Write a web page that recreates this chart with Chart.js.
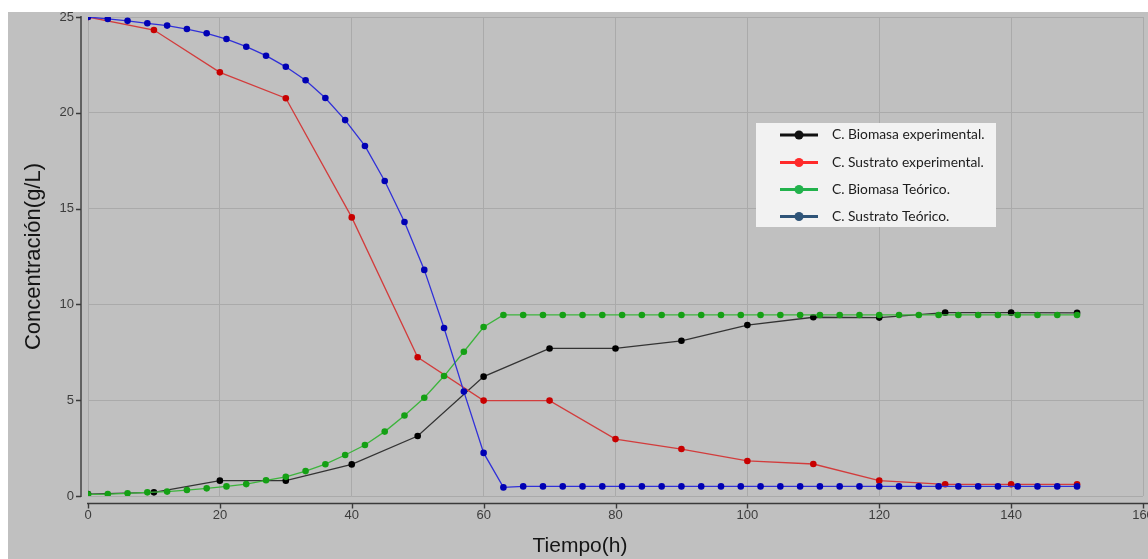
<!DOCTYPE html>
<html>
<head>
<meta charset="utf-8">
<script src="https://cdn.jsdelivr.net/npm/chart.js@4.4.1/dist/chart.umd.min.js"></script>
<style>
  html, body { margin: 0; padding: 0; background: #fff; }
  canvas { display: block; }
</style>
</head>
<body>
<canvas id="grafico" width="1148" height="559"></canvas>
<script>
"use strict"
// tiempos (h)
const tiemposTeoricos = [0, 3, 6, 9, 12, 15, 18, 21, 24, 27, 30, 33, 36, 39, 42, 45, 48, 51, 54, 57, 60,
    63, 66, 69, 72, 75, 78, 81, 84, 87, 90, 93, 96, 99, 102, 105, 108, 111, 114, 117, 120,
    123, 126, 129, 132, 135, 138, 141, 144, 147, 150];
const tiemposExp = [0, 10, 20, 30, 40, 50, 60, 70, 80, 90, 100, 110, 120, 130, 140, 150];

// concentraciones (g/L)
const biomasaExp = [0.1, 0.19, 0.8, 0.8, 1.65, 3.13, 6.23, 7.7, 7.7, 8.1, 8.92, 9.33, 9.31, 9.57, 9.57, 9.56];
const sustratoExp = [25, 24.32, 22.11, 20.76, 14.54, 7.24, 4.98, 4.98, 2.97, 2.45, 1.83, 1.67, 0.8, 0.61, 0.61, 0.61];
const biomasaTeo = [0.09, 0.1, 0.14, 0.19, 0.23, 0.31, 0.4, 0.5, 0.62, 0.82, 1.0, 1.3, 1.66, 2.14, 2.66, 3.36,
    4.2, 5.13, 6.26, 7.53, 8.82, 9.45, 9.45, 9.45, 9.45, 9.45, 9.45, 9.45, 9.45, 9.45, 9.45, 9.45,
    9.45, 9.45, 9.45, 9.45, 9.45, 9.45, 9.45, 9.45, 9.45, 9.45, 9.45, 9.45, 9.45, 9.45, 9.45, 9.45,
    9.45, 9.45, 9.45];
const sustratoTeo = [25, 24.9, 24.8, 24.67, 24.55, 24.37, 24.15, 23.85, 23.45, 22.98, 22.4, 21.7, 20.77, 19.62,
    18.27, 16.44, 14.3, 11.8, 8.77, 5.45, 2.25, 0.45, 0.5, 0.5, 0.5, 0.5, 0.5, 0.5, 0.5, 0.5, 0.5,
    0.5, 0.5, 0.5, 0.5, 0.5, 0.5, 0.5, 0.5, 0.5, 0.5, 0.5, 0.5, 0.5, 0.5, 0.5, 0.5, 0.5, 0.5, 0.5, 0.5];

const nombres = ["C. Biomasa experimental.", "C. Sustrato experimental.", "C. Biomasa Teórico.", "C. Sustrato Teórico."];
const ticksX = [0, 20, 40, 60, 80, 100, 120, 140, 160];
const ticksY = [0, 5, 10, 15, 20, 25];

const tituloX = "Tiempo(h)";
const tituloY = "Concentración(g/L)";

// colores de la leyenda (no son iguales a las lineas)
const coloresLeyenda = ["#111111", "#ff2a2a", "#22b24c", "#2f5478"];

function puntos(xs, ys) {
    return xs.map((t, i) => ({x: t, y: ys[i]}));
}

function serie(label, xs, ys, linea, punto, orden) {
    return {
        label: label,
        data: puntos(xs, ys),
        borderColor: linea,
        backgroundColor: punto,
        pointBackgroundColor: punto,
        pointBorderColor: punto,
        pointRadius: 3.3,
        pointBorderWidth: 0,
        borderWidth: 1.3,
        tension: 0,
        order: orden
    };
}

const fondoYEjes = {
    id: "fondoYEjes",
    beforeDraw(chart) {
        const ctx = chart.ctx;
        ctx.save();
        ctx.fillStyle = "#c0c0c0";
        ctx.fillRect(8, 12, chart.width - 8, chart.height - 12);
        ctx.restore();
    },
    afterDraw(chart) {
        const {ctx, chartArea: a, scales: {x, y}} = chart;
        ctx.save();
        ctx.strokeStyle = "#3a3a3a";
        ctx.lineWidth = 1.4;
        const ax = a.left - 7;
        const ay = a.bottom + 7.5;
        ctx.beginPath();
        ctx.moveTo(ax, a.top - 1);
        ctx.lineTo(ax, a.bottom + 1);
        y.ticks.forEach(t => {
            const py = Math.round(y.getPixelForValue(t.value)) + 0.5;
            ctx.moveTo(ax - 5, py);
            ctx.lineTo(ax, py);
        });
        ctx.moveTo(a.left - 1, ay);
        ctx.lineTo(chart.width, ay);
        x.ticks.forEach(t => {
            const px = Math.round(x.getPixelForValue(t.value)) + 0.5;
            ctx.moveTo(px, ay);
            ctx.lineTo(px, ay + 5);
        });
        ctx.stroke();

        // titulo eje x
        ctx.fillStyle = "#151515";
        ctx.font = '21px "Liberation Sans", Arial, sans-serif';
        ctx.textAlign = "center";
        ctx.textBaseline = "middle";
        ctx.fillText(tituloX, 580, 546);

        // leyenda
        ctx.fillStyle = "#f2f2f2";
        ctx.fillRect(756, 123, 240, 104);
        const filas = [135, 162.5, 189.5, 216.5];
        ctx.font = '13.8px Lato, "Open Sans", sans-serif';
        ctx.textAlign = "left";
        chart.data.datasets.forEach((ds, i) => {
            const fy = filas[i];
            ctx.strokeStyle = coloresLeyenda[i];
            ctx.lineWidth = 3;
            ctx.beginPath();
            ctx.moveTo(780, fy);
            ctx.lineTo(818, fy);
            ctx.stroke();
            ctx.fillStyle = coloresLeyenda[i];
            ctx.beginPath();
            ctx.arc(799, fy, 4.5, 0, Math.PI * 2);
            ctx.fill();
            ctx.fillStyle = "#1c1c1c";
            ctx.fillText(ds.label, 832, fy);
        });
        ctx.restore();
    }
};

const ctx = document.getElementById("grafico").getContext("2d");

const config = {
    type: "line",
    data: {
        datasets: [
            serie(nombres[0], tiemposExp, biomasaExp, "#333333", "#000000", 3),
            serie(nombres[1], tiemposExp, sustratoExp, "#d23c3c", "#c80000", 2),
            serie(nombres[2], tiemposTeoricos, biomasaTeo, "#3cb43c", "#14a014", 1),
            serie(nombres[3], tiemposTeoricos, sustratoTeo, "#3030d8", "#0000b4", 0)
        ]
    },
    options: {
        responsive: false,
        animation: false,
        devicePixelRatio: 1,
        layout: {padding: {left: 0, right: 5, top: 17, bottom: 0}},
        plugins: {
            legend: {display: false},
            tooltip: {enabled: false}
        },
        scales: {
            x: {
                type: "linear",
                min: 0,
                max: 160,
                afterBuildTicks: s => { s.ticks = ticksX.map(v => ({value: v})); },
                ticks: {
                    color: "#3c3c3c",
                    font: {family: '"Liberation Sans", Arial, sans-serif', size: 13},
                    padding: 12,
                    maxRotation: 0
                },
                grid: {color: "#aaaaaa", lineWidth: 1, drawTicks: false},
                border: {display: false},
                afterFit: s => { s.height = 63; s.paddingLeft = 0; s.paddingRight = 0; }
            },
            y: {
                min: 0,
                max: 25,
                afterBuildTicks: s => { s.ticks = ticksY.map(v => ({value: v})); },
                ticks: {
                    color: "#3c3c3c",
                    font: {family: '"Liberation Sans", Arial, sans-serif', size: 13},
                    padding: 14
                },
                grid: {color: "#aaaaaa", lineWidth: 1, drawTicks: false},
                border: {display: false},
                title: {
                    display: true,
                    text: tituloY,
                    color: "#151515",
                    font: {family: '"Liberation Sans", Arial, sans-serif', size: 22},
                    padding: {top: 21, bottom: 0}
                },
                afterFit: s => { s.width = 88; s.paddingTop = 0; s.paddingBottom = 0; }
            }
        }
    },
    plugins: [fondoYEjes]
};

const grafico = new Chart(ctx, config);
</script>
</body>
</html>
